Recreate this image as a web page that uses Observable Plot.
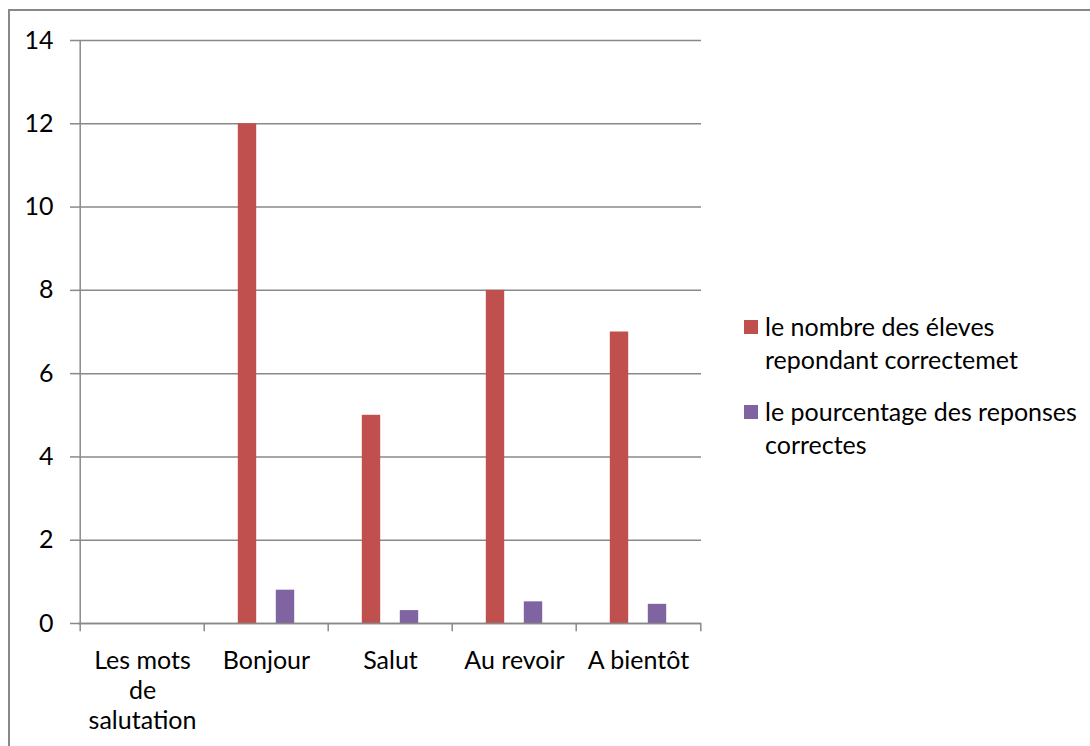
<!DOCTYPE html>
<html><head><meta charset="utf-8">
<script src="https://cdn.jsdelivr.net/npm/d3@7"></script>
<script src="https://cdn.jsdelivr.net/npm/@observablehq/plot@0.6"></script>
<style>
html,body{margin:0;padding:0;background:#fff;overflow:hidden;width:1090px;height:746px}
#wrap{position:relative;width:1090px;height:746px;font-family:Lato,sans-serif;overflow:hidden}
#frame{position:absolute;left:8px;top:9px;width:1200px;height:900px;border-left:2px solid #888;border-top:2px solid #888;box-sizing:border-box}
#chart{position:absolute;left:0;top:0}
.item{position:absolute;left:744px;font-size:25px;color:#000;line-height:33px}
.sw{position:absolute;left:0;top:10px;width:14px;height:14px}
.txt{position:absolute;left:21px;top:0;white-space:nowrap}
</style></head>
<body>
<div id="wrap"><div id="frame"></div><div id="chart"></div><div id="legend"></div></div>
<script>
const categories = ["Les mots de salutation","Bonjour","Salut","Au revoir","A bientôt"];
const categoryLabels = ["Les mots\nde\nsalutation","Bonjour","Salut","Au revoir","A bientôt"];
const eleves = [0,12,5,8,7];
const pourcentage = [0,0.8,0.31,0.52,0.46];
const seriesNames = ["le nombre des éleves\nrepondant correctemet","le pourcentage des reponses\ncorrectes"];
const seriesColors = ["#C0504D","#8064A2"];
const yTicks = [0,2,4,6,8,10,12,14];

const W=1090,H=746,mL=78,mR=389,mT=40,mB=123;
const band=(W-mL-mR)/categories.length;
const barW=19;
const inset=(band-barW)/2;
const rows=categories.map((c,i)=>({c,eleves:eleves[i],pct:pourcentage[i]}));
const grey="#898989";

const chart=Plot.plot({
  width:W,height:H,marginLeft:mL,marginRight:mR,marginTop:mT,marginBottom:mB,
  style:{fontFamily:"Lato, sans-serif",fontSize:"25px",color:"#000",background:"transparent",overflow:"visible"},
  x:{type:"band",domain:categories,padding:0},
  y:{domain:[0,14]},
  marks:[
    Plot.gridY(yTicks,{stroke:grey,strokeOpacity:1,strokeWidth:1.5}),
    Plot.axisY(yTicks,{tickSize:8,tickPadding:17,stroke:grey,strokeWidth:1.5,fill:"#000",fontSize:25,label:null}),
    Plot.ruleX([categories[0]],{x:d=>d,dx:-band/2,y1:0,y2:14,stroke:grey,strokeWidth:1.5}),
    Plot.ruleX(categories,{x:d=>d,dx:-band/2,y1:0,y2:-0.2,stroke:grey,strokeWidth:1.5}),
    Plot.ruleX([categories[categories.length-1]],{x:d=>d,dx:band/2,y1:0,y2:-0.2,stroke:grey,strokeWidth:1.5}),
    Plot.barY(rows,{x:"c",y:"eleves",fill:seriesColors[0],insetLeft:inset,insetRight:inset,dx:-barW}),
    Plot.barY(rows,{x:"c",y:"pct",fill:seriesColors[1],insetLeft:inset,insetRight:inset,dx:barW}),
    Plot.ruleY([0],{stroke:grey,strokeWidth:1.5}),
    Plot.axisX({tickSize:0,tickPadding:24,tickFormat:d=>categoryLabels[categories.indexOf(d)],fontSize:25,lineHeight:1.2,fill:"#000",label:null})
  ]
});
document.getElementById("chart").appendChild(chart);

const legend=document.getElementById("legend");
const tops=[310,395];
seriesNames.forEach((name,i)=>{
  const it=document.createElement("div");
  it.className="item";
  it.style.top=tops[i]+"px";
  const sw=document.createElement("div");
  sw.className="sw";sw.style.background=seriesColors[i];
  const tx=document.createElement("div");
  tx.className="txt";
  tx.innerHTML=name.split("\n").join("<br>");
  it.appendChild(sw);it.appendChild(tx);
  legend.appendChild(it);
});
</script>
</body></html>
